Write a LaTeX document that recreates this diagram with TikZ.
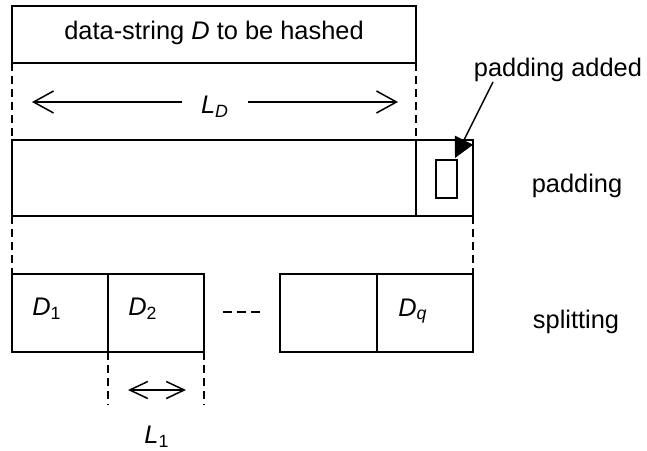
\documentclass[tikz,border=0pt]{standalone}
\usepackage{fontspec}
\setmainfont{Liberation Sans}
\usetikzlibrary{arrows.meta}

\begin{document}
\begin{tikzpicture}[x=0.5pt,y=-0.5pt,line width=0.75pt,
            every node/.style={font=\fontsize{12.7}{15}\selectfont},
            guide/.style={dash pattern=on 4pt off 2.5pt},
            barb/.style={-{Straight Barb[length=10pt,width=11pt]}},
            span/.style={{Straight Barb[length=9pt,width=8.5pt]}-{Straight Barb[length=9pt,width=8.5pt]}},
            pointer/.style={-{Triangle[length=10pt,width=10pt]}}]
            \useasboundingbox (0,0) rectangle (647,450);
            \draw (12,6) rectangle (416,63);
            \node (data) at (214,33) {data-string \textit{D} to be hashed};
            \draw[guide] (12,63)--(12,140);
            \draw[guide] (416,63)--(416,140);
            \coordinate (ldl) at (32,102);
            \coordinate (ldr) at (398,102);
            \node[inner xsep=9pt] (ld) at (215,107) {\textit{L}\textsubscript{\textit{D}}};
            \draw[barb] (ld.west |- ldl)--(ldl);
            \draw[barb] (ld.east |- ldr)--(ldr);
            \draw (12,140) rectangle (473,216);
            \draw (416,140)--(416,216);
            \draw (436,160) rectangle (457,198);
            \node (added) at (558,70) {padding added};
            \coordinate (tail) at (493,82);
            \coordinate (pad) at (455,158);
            \draw[pointer] (tail)--(pad);
            \node (padding) at (577,186) {padding};
            \draw[guide] (12,216)--(12,274);
            \draw[guide] (473,216)--(473,274);
            \draw (12,274) rectangle (204,352);
            \draw (108,274)--(108,352);
            \draw (280,274) rectangle (473,352);
            \draw (377,274)--(377,352);
            \node (d1) at (47,309) {\textit{D}\textsubscript{1}};
            \node (d2) at (143,309) {\textit{D}\textsubscript{2}};
            \node (dq) at (413,311) {\textit{D}\textsubscript{\textit{q}}};
            \draw[dash pattern=on 4.5pt off 2.6pt] (223,312)--(263,312);
            \node (splitting) at (576,322) {splitting};
            \draw[guide] (108,352)--(108,405);
            \draw[guide] (204,352)--(204,405);
            \coordinate (l1l) at (128,390);
            \coordinate (l1r) at (186,390);
            \draw[span] (l1l)--(l1r);
            \node (l1) at (157,437) {\textit{L}\textsubscript{1}};
        \end{tikzpicture}
\end{document}
